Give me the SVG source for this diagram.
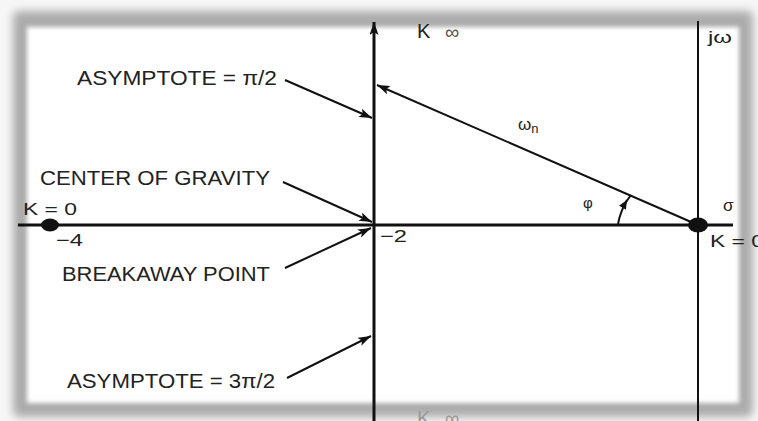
<svg xmlns="http://www.w3.org/2000/svg" width="758" height="421" viewBox="0 0 758 421">
  <defs>
    <filter id="blur4" x="-10%" y="-10%" width="120%" height="120%"><feGaussianBlur stdDeviation="4"/></filter>
    <filter id="blur2" x="-10%" y="-10%" width="120%" height="120%"><feGaussianBlur stdDeviation="2"/></filter>
    <marker id="arr" markerUnits="userSpaceOnUse" markerWidth="14" markerHeight="9" refX="13" refY="4.5" orient="auto-start-reverse">
      <path d="M0,0 L13,4.5 L0,9 L3,4.5 z" fill="#111"/>
    </marker>
    <marker id="arrs" markerUnits="userSpaceOnUse" markerWidth="10" markerHeight="8" refX="9" refY="4" orient="auto">
      <path d="M0,0 L9,4 L0,8 z" fill="#111"/>
    </marker>
  </defs>
  <style>
    .t { font-family: "Liberation Sans", Arial, sans-serif; fill: #222; }
    .lbl { font-size: 20px; }
    .sm { font-size: 17px; }
    .kk { font-size: 20px; }
    .ax { stroke: #111; stroke-width: 3; fill: none; }
    .ln { stroke: #111; stroke-width: 2; fill: none; }
  </style>

  <!-- frame -->
  <rect x="0" y="0" width="758" height="421" fill="#f6f6f6"/>
  <rect x="13" y="11" width="740" height="406" rx="6" fill="#acacac" filter="url(#blur4)"/>
  <rect x="27" y="27" width="712" height="376" fill="#ffffff" filter="url(#blur2)"/>

  <!-- connectors -->
  <g id="connectors">
    <line class="ax" x1="374" y1="421" x2="374" y2="22" marker-end="url(#arr)"/>
    <line class="ax" x1="18" y1="225" x2="733" y2="225"/>
    <line class="ln" x1="698" y1="21" x2="698" y2="421"/>
    <line class="ln" x1="698" y1="225" x2="377" y2="85" marker-end="url(#arr)"/>
    <line class="ln" x1="285" y1="80" x2="372" y2="118" marker-end="url(#arr)"/>
    <line class="ln" x1="283" y1="182" x2="372" y2="222" marker-end="url(#arr)"/>
    <line class="ln" x1="285" y1="268" x2="371" y2="228" marker-end="url(#arr)"/>
    <line class="ln" x1="287" y1="378" x2="371" y2="336" marker-end="url(#arr)"/>
    <path class="ln" d="M618,224 A76,76 0 0 1 627,200" marker-end="url(#arrs)"/>
    <path class="ln" d="M626,202 L631,195"/>
  </g>

  <!-- poles -->
  <g id="pole-left"><ellipse cx="50" cy="225" rx="9" ry="6.5" fill="#111"/></g>
  <g id="pole-right"><ellipse cx="698" cy="225" rx="10" ry="7.5" fill="#111"/></g>

  <!-- labels -->
  <g id="asym1"><text class="t lbl" x="77" y="85" textLength="200" lengthAdjust="spacingAndGlyphs">ASYMPTOTE = π/2</text></g>
  <g id="cog"><text class="t lbl" x="40" y="185" textLength="230" lengthAdjust="spacingAndGlyphs">CENTER OF GRAVITY</text></g>
  <g id="breakaway"><text class="t lbl" x="62" y="281" textLength="208" lengthAdjust="spacingAndGlyphs">BREAKAWAY POINT</text></g>
  <g id="asym2"><text class="t lbl" x="67" y="388" textLength="208" lengthAdjust="spacingAndGlyphs">ASYMPTOTE = 3π/2</text></g>
  <g id="k0-left"><text class="t sm" x="23" y="215" textLength="54" lengthAdjust="spacingAndGlyphs">K = 0</text></g>
  <g id="m4"><text class="t sm" x="56" y="246" textLength="27" lengthAdjust="spacingAndGlyphs">−4</text></g>
  <g id="m2"><text class="t sm" x="380" y="242" textLength="27" lengthAdjust="spacingAndGlyphs">−2</text></g>
  <g id="kinf-top"><text class="t kk" x="417" y="38">K<tspan x="445" y="39" style="fill:#555">∞</tspan></text></g>
  <g id="kinf-bot"><text class="t kk" x="417" y="425" style="fill:#999">K<tspan x="445">∞</tspan></text></g>
  <g id="jw"><text class="t sm" x="708" y="43" textLength="24" lengthAdjust="spacingAndGlyphs">jω</text></g>
  <g id="wn"><text class="t sm" x="518" y="130">ω<tspan font-size="13" dy="3">n</tspan></text></g>
  <g id="phi"><text class="t" x="583" y="208" font-size="15">φ</text></g>
  <g id="sigma"><text class="t sm" x="723" y="211">σ</text></g>
  <g id="k0-right"><text class="t sm" x="710" y="247" textLength="54" lengthAdjust="spacingAndGlyphs">K = 0</text></g>
</svg>
